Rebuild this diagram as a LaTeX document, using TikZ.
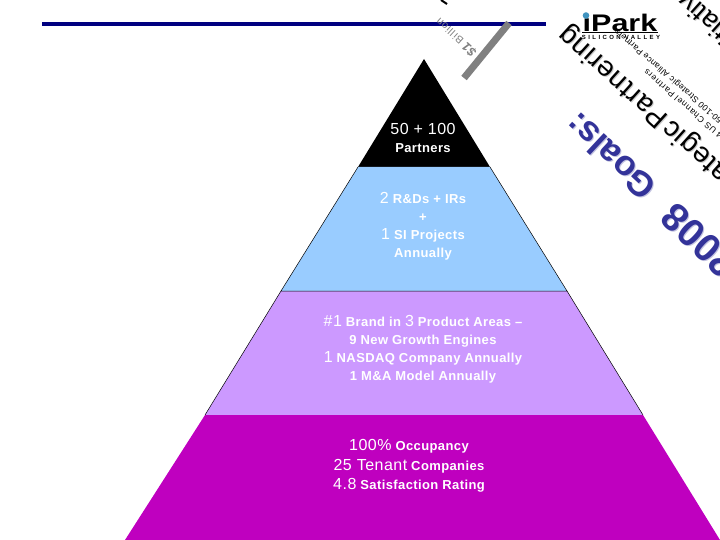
\documentclass[tikz,border=0pt]{standalone}
\usepackage{fontspec}
\setmainfont{Liberation Sans}
\definecolor{navyline}{HTML}{000080}
\definecolor{goalblue}{HTML}{333399}
\definecolor{tierblue}{HTML}{99CCFF}
\definecolor{tierlilac}{HTML}{CC99FF}
\definecolor{tiermagenta}{HTML}{BF00BF}
\newcommand{\lrg}[1]{{\fontsize{16}{18}\selectfont\mdseries #1}}
\tikzset{
  tiertext/.style={text=white, align=center, inner sep=0pt, font=\fontsize{13}{18}\selectfont\bfseries\addfontfeature{LetterSpace=3}},
  slanted/.style={anchor=east, rotate=138, inner sep=0pt},
  inittext/.style={slanted, font=\fontsize{27}{27}\selectfont},
  partnertext/.style={slanted, font=\fontsize{28}{28}\selectfont\addfontfeature{LetterSpace=3}},
  goaltext/.style={slanted, rotate=-1, font=\fontsize{35}{35}\selectfont\bfseries},
  smalltext/.style={slanted, rotate=1, font=\fontsize{8.5}{9}\selectfont\addfontfeature{LetterSpace=4}}
}
\newcommand{\goalline}{{\fontsize{39}{39}\selectfont 2008}\hspace{24pt}Goals:}
\newcommand{\partnerline}{Strategic\hspace{-5pt} Partnering}
\begin{document}
\begin{tikzpicture}[x=1pt,y=-1pt]
\useasboundingbox (0,0) rectangle (720,540);
\clip (0,0) rectangle (720,540);
% rule and bar
\fill[navyline] (42,22) rectangle (546,26);
\draw[gray,line width=7pt] (509,23) -- (464,78);
\node[slanted, rotate=-0.5, text=gray] (billion) at (437,20) {\fontsize{12.5}{12}\selectfont\bfseries\itshape\$1 \fontsize{10.5}{10}\selectfont\mdseries\upshape\addfontfeature{LetterSpace=8}Billion};
\draw[black,line width=2pt] (441,0) -- (447,4);
% pyramid
\fill[black] (424,59) -- (490,167) -- (358,167) -- cycle;
\fill[tierblue] (358,167) -- (490,167) -- (567,291) -- (281,291) -- cycle;
\fill[tierlilac] (281,291) -- (567,291) -- (643,415) -- (205,415) -- cycle;
\fill[tiermagenta] (205,415) -- (643,415) -- (720,540) -- (125,540) -- cycle;
\draw[black,line width=0.5pt] (358,167) -- (281,291) -- (567,291) -- (490,167);
\draw[black,line width=0.5pt] (281,291) -- (205,415);
\draw[black,line width=0.5pt] (567,291) -- (643,415);
\node[tiertext] (partners) at (423,138) {\lrg{50 + 100}\\Partners};
\node[tiertext] (projects) at (423,226) {\lrg{2} R\&Ds + IRs\\+\\\lrg{1} SI Projects\\Annually};
\node[tiertext] (brand) at (423,349) {\lrg{\#1} Brand in \lrg{3} Product Areas --\\9 New Growth Engines\\\lrg{1} NASDAQ Company Annually\\1 M\&A Model Annually};
\node[tiertext] (tenant) at (409,466) {\lrg{100\%} Occupancy\\[1.5pt]\lrg{25 Tenant} Companies\\[1.5pt]\lrg{4.8} Satisfaction Rating};
% logo
\node[inner sep=0pt, xscale=1.27, font=\fontsize{24}{24}\selectfont\bfseries] (logo) at (620,23) {iPark};
\fill[white] (581,10) rectangle (591,17.8);
\fill[blue!35!cyan!50!gray] (586,15.5) circle (3.3pt);
\draw[black,line width=0.4pt] (582,32) -- (658,32);
\node[inner sep=0pt, font=\fontsize{6}{6}\selectfont\bfseries\addfontfeature{LetterSpace=40}] (valley) at (621,37.5) {SILICON VALLEY};
% slanted texts
\node[inittext, text=gray!40] (initshadow) at (672,-11) {Initiative};
\node[inittext] (init) at (671,-12) {Initiative};
\node[partnertext, text=gray!40] (partshadow) at (564,31) {\partnerline};
\node[partnertext] (part) at (563,30) {\partnerline};
\node[smalltext] (alliance) at (616,30) {50-100 Strategic Alliance Partners};
\node[smalltext, font=\fontsize{8.5}{9}\selectfont\addfontfeature{LetterSpace=9}] (channel) at (645,71) {14 US Channel Partners};
\node[goaltext, text=goalblue!30] (goalshadow) at (571,121) {\goalline};
\node[goaltext, text=goalblue] (goals) at (570,120) {\goalline};
\end{tikzpicture}
\end{document}
